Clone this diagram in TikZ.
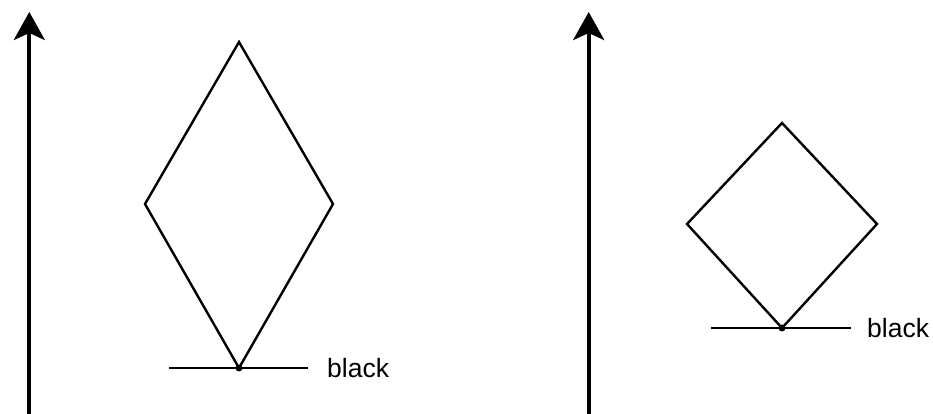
\documentclass[tikz,border=0pt]{standalone}
\usepackage{fontspec}
\setmainfont{Liberation Sans}
\usepackage{tikz}
\usetikzlibrary{arrows.meta}
\tikzset{
  axis/.style ={-{Stealth[length=28pt, width=31pt, inset=7pt]}, line width=4pt},
  edge/.style ={line width=2.4pt, line join=miter},
  base/.style ={line width=2.4pt},
  pin/.style  ={circle, fill, inner sep=0pt, minimum size=7pt},
  lbl/.style  ={anchor=west, inner sep=0pt, font=\fontsize{26.5}{32}\selectfont},
}
\begin{document}
\begin{tikzpicture}[x=1pt, y=1pt]
  \useasboundingbox (0,0) rectangle (933,414);
  % left panel
  \coordinate (axL0) at (29.3,0);
  \coordinate (axL1) at (29.3,402);
  \draw[axis] (axL0) -- (axL1);
  \coordinate (dLt) at (239,372);
  \coordinate (dLl) at (145,210);
  \coordinate (dLr) at (333,210);
  \node[pin] (pL) at (239,46) {};
  \coordinate (bL0) at (169,46);
  \coordinate (bL1) at (308,46);
  \draw[base] (bL0) -- (bL1);
  \draw[edge] (pL.center) -- (dLl) -- (dLt) -- (dLr) -- cycle;
  \node[lbl] (tL) at (327,46) {black};
  % right panel
  \coordinate (axR0) at (588.7,0);
  \coordinate (axR1) at (588.7,402);
  \draw[axis] (axR0) -- (axR1);
  \coordinate (dRt) at (782,291);
  \coordinate (dRl) at (687,190);
  \coordinate (dRr) at (877,190);
  \node[pin] (pR) at (782,86) {};
  \coordinate (bR0) at (711,86);
  \coordinate (bR1) at (851,86);
  \draw[base] (bR0) -- (bR1);
  \draw[edge] (pR.center) -- (dRl) -- (dRt) -- (dRr) -- cycle;
  \node[lbl] (tR) at (867,86) {black};
\end{tikzpicture}
\end{document}
